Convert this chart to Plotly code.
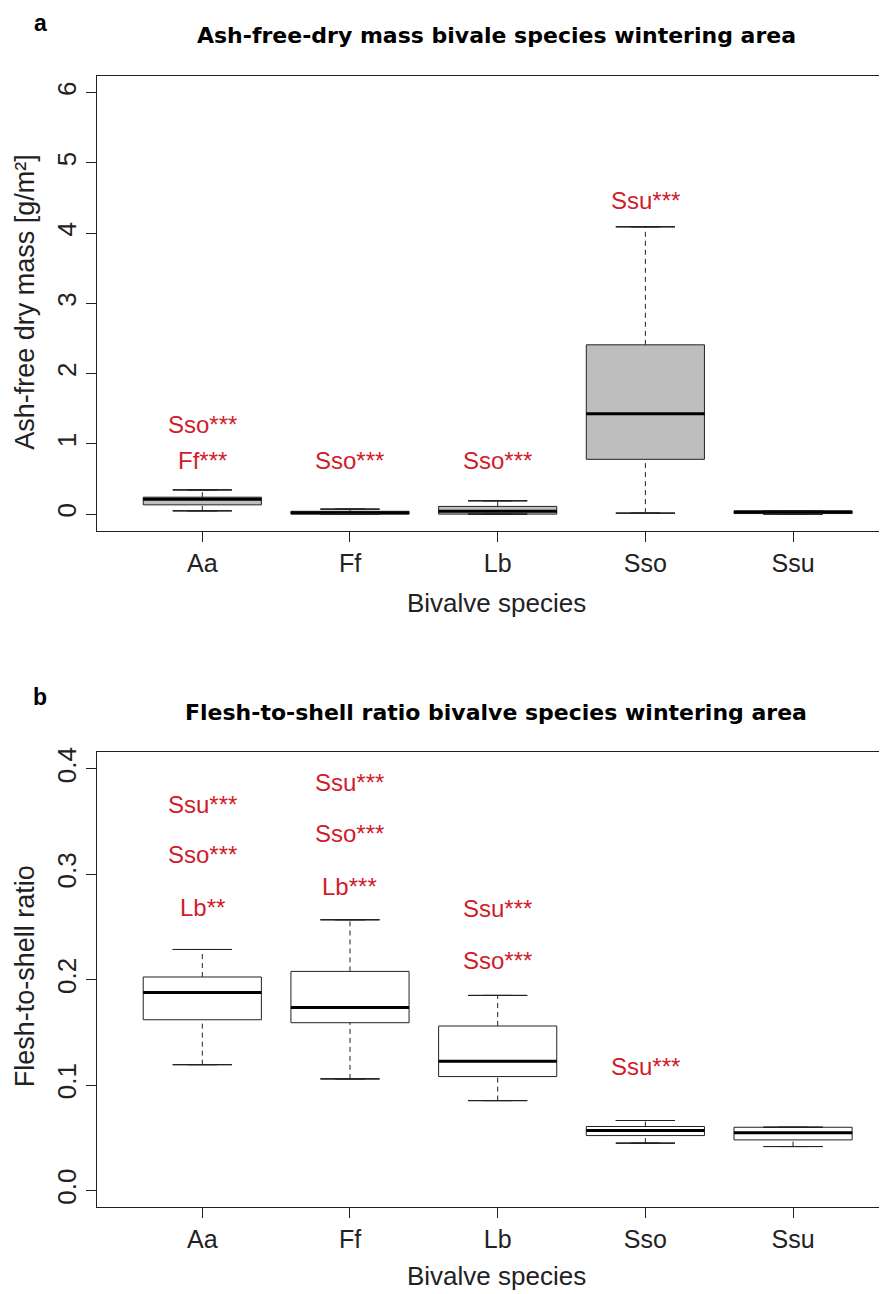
import plotly.graph_objects as go

# the page body adds an 8px margin, so the figure is 8px smaller each way
OFF = 8
W, H = 887 - OFF, 1294 - OFF

species = ["Aa", "Ff", "Lb", "Sso", "Ssu"]

# panel a: ash-free dry mass [g/m2]
afdm_low = [0.047, 0.0, 0.0, 0.014, 0.0]
afdm_q1 = [0.132, 0.0, 0.0, 0.78, 0.008]
afdm_med = [0.213, 0.02, 0.04, 1.43, 0.03]
afdm_q3 = [0.241, 0.04, 0.11, 2.41, 0.045]
afdm_high = [0.345, 0.071, 0.19, 4.09, 0.05]

afdm_sig_x = ["Aa", "Aa", "Ff", "Lb", "Sso"]
afdm_sig_y = [1.27, 0.77, 0.77, 0.77, 4.47]
afdm_sig_text = ["Sso***", "Ff***", "Sso***", "Sso***", "Ssu***"]

# panel b: flesh-to-shell ratio
fsr_low = [0.1194, 0.1059, 0.0853, 0.0449, 0.0417]
fsr_q1 = [0.162, 0.1592, 0.1081, 0.0521, 0.048]
fsr_med = [0.188, 0.1737, 0.1226, 0.0569, 0.0547]
fsr_q3 = [0.2026, 0.2079, 0.1561, 0.0607, 0.060]
fsr_high = [0.2287, 0.2569, 0.1851, 0.0664, 0.060]

fsr_sig_x = ["Aa", "Aa", "Aa", "Ff", "Ff", "Ff", "Lb", "Lb", "Sso"]
fsr_sig_y = [0.366, 0.319, 0.269, 0.387, 0.339, 0.288, 0.268, 0.218, 0.118]
fsr_sig_text = ["Ssu***", "Sso***", "Lb**", "Ssu***", "Sso***", "Lb***",
                "Ssu***", "Sso***", "Ssu***"]

INK = "#222222"
RED = "#D01C2A"
FONT = "Liberation Sans"


def px_x(p):
    return (p - OFF) / W


def px_y(p):
    return 1 - (p - OFF) / H


fig = go.Figure()


def add_panel(xa, ya, low, q1, med, q3, high, fill):
    # box body
    fig.add_trace(go.Box(
        x=species, q1=q1, median=med, q3=q3, lowerfence=q1, upperfence=q3,
        width=0.8, fillcolor=fill, line=dict(color=INK, width=1),
        whiskerwidth=0, boxpoints=False, hoverinfo="skip", showlegend=False,
        xaxis=xa, yaxis=ya,
    ))
    # thick median
    fig.add_trace(go.Box(
        x=species, q1=med, median=med, q3=med, lowerfence=med, upperfence=med,
        width=0.8, fillcolor="rgba(0,0,0,0)", line=dict(color="black", width=3),
        boxpoints=False, hoverinfo="skip", showlegend=False,
        xaxis=xa, yaxis=ya,
    ))
    # dashed whiskers
    wx, wy = [], []
    for s, lo, a, b, hi in zip(species, low, q1, q3, high):
        wx += [s, s, None, s, s, None]
        wy += [b, hi, None, lo, a, None]
    fig.add_trace(go.Scatter(
        x=wx, y=wy, mode="lines", line=dict(color=INK, width=1, dash="5px,4px"),
        hoverinfo="skip", showlegend=False, xaxis=xa, yaxis=ya,
    ))
    # staples
    for v in (low, high):
        fig.add_trace(go.Box(
            x=species, q1=v, median=v, q3=v, lowerfence=v, upperfence=v,
            width=0.4, fillcolor="rgba(0,0,0,0)", line=dict(color=INK, width=1),
            boxpoints=False, hoverinfo="skip", showlegend=False,
            xaxis=xa, yaxis=ya,
        ))


add_panel("x", "y", afdm_low, afdm_q1, afdm_med, afdm_q3, afdm_high, "#BEBEBE")
add_panel("x2", "y2", fsr_low, fsr_q1, fsr_med, fsr_q3, fsr_high, "white")

annotations = []
for xs, ys, ts, xr, yr in [
    (afdm_sig_x, afdm_sig_y, afdm_sig_text, "x", "y"),
    (fsr_sig_x, fsr_sig_y, fsr_sig_text, "x2", "y2"),
]:
    for xv, yv, tv in zip(xs, ys, ts):
        annotations.append(dict(
            x=xv, y=yv, xref=xr, yref=yr, text=tv, showarrow=False,
            font=dict(family=FONT, size=24, color=RED),
        ))

# panel letters, titles and axis titles
for letter, ly, title, ty, ytitle, yc, xt in [
    ("a", 18, "Ash-free-dry mass bivale species wintering area", 31,
     "Ash-free dry mass [g/m²]", 298, 600),
    ("b", 695, "Flesh-to-shell ratio bivalve species wintering area", 710,
     "Flesh-to-shell ratio", 975, 1276),
]:
    annotations.append(dict(
        x=px_x(40), y=px_y(ly), xref="paper", yref="paper", text="<b>" + letter + "</b>",
        showarrow=False, font=dict(family=FONT, size=23, color="black"),
        xanchor="center", yanchor="middle",
    ))
    annotations.append(dict(
        x=px_x(496), y=px_y(ty), xref="paper", yref="paper", text="<b>" + title + "</b>",
        showarrow=False, font=dict(family="DejaVu Sans", size=22, color="black"),
        xanchor="center", yanchor="middle",
    ))
    annotations.append(dict(
        x=px_x(25), y=px_y(yc), xref="paper", yref="paper", text=ytitle,
        textangle=-90, showarrow=False, font=dict(family=FONT, size=27, color=INK),
        xanchor="center", yanchor="middle",
    ))
    annotations.append(dict(
        x=px_x(496), y=px_y(xt), xref="paper", yref="paper", text="Bivalve species",
        showarrow=False, font=dict(family=FONT, size=26, color=INK),
        xanchor="center", yanchor="middle",
    ))

xcommon = dict(
    type="category", categoryorder="array", categoryarray=species,
    range=[-0.713, 4.636], showline=True, linecolor=INK, linewidth=1, mirror=True,
    ticks="outside", ticklen=10, tickcolor=INK, tickwidth=1,
    tickfont=dict(family=FONT, size=25, color=INK), showgrid=False, zeroline=False,
    fixedrange=True,
)
ycommon = dict(
    showline=True, linecolor=INK, linewidth=1, ticks="outside", ticklen=10,
    tickcolor=INK, tickwidth=1, tickangle=-90,
    tickfont=dict(family=FONT, size=26, color=INK), showgrid=False, zeroline=False,
    fixedrange=True,
)

fig.update_layout(
    width=W, height=H, margin=dict(l=0, r=0, t=0, b=0),
    paper_bgcolor="white", plot_bgcolor="white", boxmode="overlay",
    showlegend=False, annotations=annotations,
    xaxis=dict(xcommon, domain=[px_x(97), 1], anchor="y"),
    yaxis=dict(ycommon, domain=[px_y(528), px_y(71)], anchor="x",
               range=[-0.24, 6.24], tickvals=[0, 1, 2, 3, 4, 5, 6]),
    xaxis2=dict(xcommon, domain=[px_x(97), 1], anchor="y2"),
    yaxis2=dict(ycommon, domain=[px_y(1207), px_y(750)], anchor="x2",
                range=[-0.016, 0.416], tickvals=[0, 0.1, 0.2, 0.3, 0.4],
                tickformat=".1f"),
)

fig.write_html("out.html")
